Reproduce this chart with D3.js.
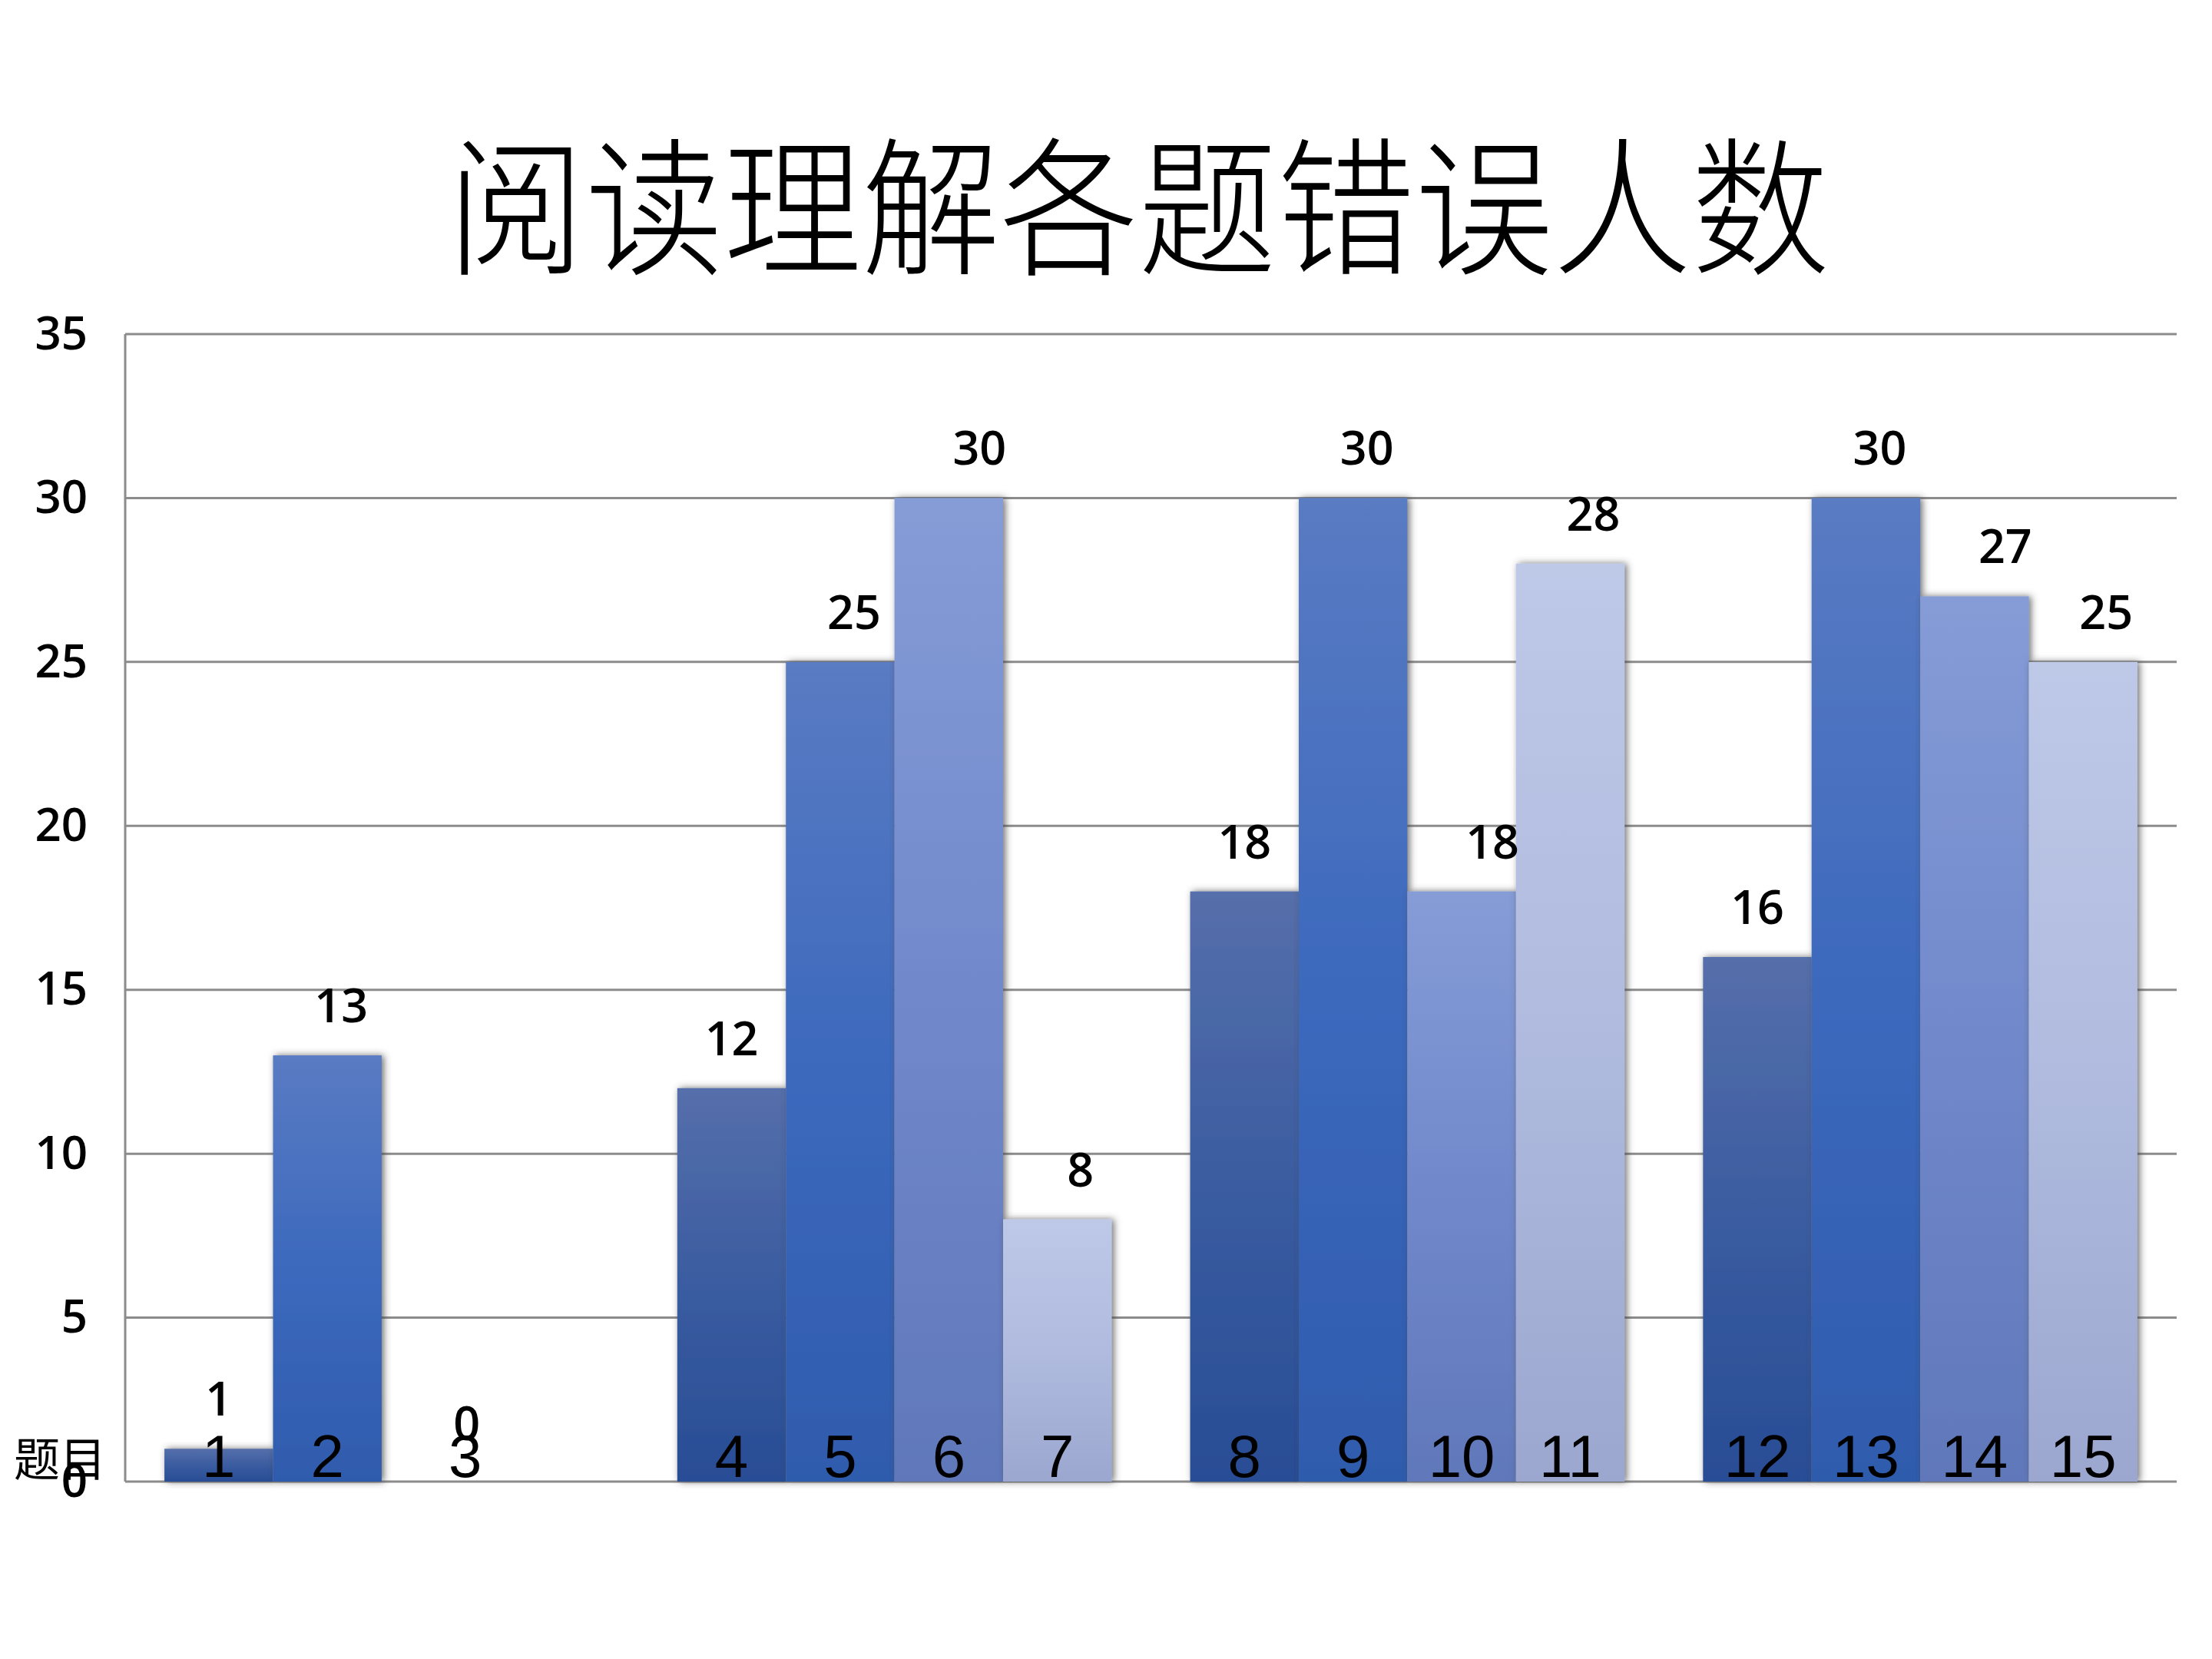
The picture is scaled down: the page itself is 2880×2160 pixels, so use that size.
<!DOCTYPE html>
<html>
<head>
<meta charset="UTF-8">
<style>
  body { margin: 0; background: #fff; }
  .grid line { stroke: #8c8c8c; stroke-width: 3px; }
  .axis--y path, .axis--y line { display: none; }
  .axis--y text { font-family: "Open Sans", "Noto Sans", sans-serif; font-size: 60px; font-weight: 600; fill: #000; }
  .value { font-family: "Open Sans", "Noto Sans", sans-serif; font-size: 61px; font-weight: 600; fill: #000; text-anchor: middle; }
  .qno { font-family: "Liberation Sans", Arial, sans-serif; font-size: 78px; fill: #000; text-anchor: middle; }
</style>
</head>
<body>
<svg width="2880" height="2160"></svg>
<script src="https://d3js.org/d3.v7.min.js"></script>
<script>
// groups of questions, four bars per group
var groups = ["g1", "g2", "g3", "g4"];
var slots = [0, 1, 2, 3];
// number of students who got each question wrong (null = no bar)
var errors = [
  [1, 13, 0, null],
  [12, 25, 30, 8],
  [18, 30, 18, 28],
  [16, 30, 27, 25]
];
// question numbers written inside the bars
var questionNos = [
  ["1", "2", "3", null],
  ["4", "5", "6", "7"],
  ["8", "9", "10", "11"],
  ["12", "13", "14", "15"]
];
var yTicks = [0, 5, 10, 15, 20, 25, 30, 35];
var title = "阅读理解各题错误人数";
var xTitle = "题目";

var svg = d3.select("svg"),
    margin = {top: 435, right: 46, bottom: 231, left: 163},
    width = +svg.attr("width") - margin.left - margin.right,
    height = +svg.attr("height") - margin.top - margin.bottom,
    g = svg.append("g").attr("transform", "translate(" + margin.left + "," + margin.top + ")");

svg.insert("rect", ":first-child").attr("width", 2880).attr("height", 2160).attr("fill", "#fff");

// gradients, one per slot colour
var colors = [
  ["#566fab", "#3a5ca0", "#284d95"],
  ["#5a7bc3", "#3c69bd", "#2f5bad"],
  ["#859cd7", "#7189cb", "#6078ba"],
  ["#bec8e7", "#b0bbdf", "#9ba7cf"]
];
var defs = svg.append("defs");
colors.forEach(function(c, i) {
  var lg = defs.append("linearGradient").attr("id", "grad" + i)
      .attr("x1", 0).attr("y1", 0).attr("x2", 0).attr("y2", 1);
  lg.append("stop").attr("offset", "0%").attr("stop-color", c[0]);
  lg.append("stop").attr("offset", "50%").attr("stop-color", c[1]);
  lg.append("stop").attr("offset", "100%").attr("stop-color", c[2]);
});
var f = defs.append("filter").attr("id", "shadow")
    .attr("x", "-20%").attr("y", "-20%").attr("width", "140%").attr("height", "140%");
f.append("feDropShadow").attr("dx", 3).attr("dy", 0).attr("stdDeviation", 5)
    .attr("flood-color", "#404040").attr("flood-opacity", 0.75);

var x0 = d3.scaleBand().domain(groups).range([0, width])
    .paddingInner(0.153).paddingOuter(0.0765);
var x1 = d3.scaleBand().domain(slots).range([0, x0.bandwidth()]);
var y = d3.scaleLinear().domain([0, 35]).range([height, 0]);

// gridlines
g.append("g").attr("class", "grid")
  .selectAll("line").data(yTicks).enter().append("line")
    .attr("x1", 0).attr("x2", width)
    .attr("y1", function(d) { return y(d); })
    .attr("y2", function(d) { return y(d); });
g.append("line")
    .attr("x1", 0).attr("x2", 0).attr("y1", 0).attr("y2", height)
    .style("stroke", "#8c8c8c").style("stroke-width", "3px");

g.append("g")
    .attr("class", "axis axis--y")
    .attr("transform", "translate(-49,0)")
    .call(d3.axisLeft(y).tickValues(yTicks).tickSize(0).tickPadding(0));

// flatten into bars
var bars = [];
groups.forEach(function(grp, gi) {
  slots.forEach(function(s) {
    if (errors[gi][s] !== null) bars.push({group: grp, slot: s, value: errors[gi][s], q: questionNos[gi][s]});
  });
});

g.selectAll(".bar")
  .data(bars.filter(function(d) { return d.value > 0; }))
  .enter().append("rect")
    .attr("class", "bar")
    .attr("x", function(d) { return x0(d.group) + x1(d.slot); })
    .attr("y", function(d) { return y(d.value); })
    .attr("width", x1.bandwidth())
    .attr("height", function(d) { return height - y(d.value); })
    .attr("fill", function(d) { return "url(#grad" + d.slot + ")"; })
    .attr("filter", "url(#shadow)");

// value labels sit a little right of centre for the lighter bars, like the original
var labelShift = [0, 18, 40, 30];
g.selectAll(".value")
  .data(bars)
  .enter().append("text")
    .attr("class", "value")
    .attr("x", function(d) { return x0(d.group) + x1(d.slot) + x1.bandwidth() / 2 + labelShift[d.slot]; })
    .attr("y", function(d) { return y(d.value) - (d.value === 0 ? 54 : 43); })
    .text(function(d) { return d.value; });

g.selectAll(".qno")
  .data(bars)
  .enter().append("text")
    .attr("class", "qno")
    .attr("x", function(d) { return x0(d.group) + x1(d.slot) + x1.bandwidth() / 2 + (d.value === 0 ? 38 : 0); })
    .attr("y", height - 6)
    .text(function(d) { return d.q; });

svg.append("text")
    .attr("x", 18).attr("y", 1922)
    .style("font-family", "'Noto Sans CJK SC', sans-serif")
    .style("font-size", "60px")
    .style("fill", "#000")
    .text(xTitle);

svg.append("text")
    .attr("transform", "translate(1482,258) scale(1,1.08)")
    .attr("text-anchor", "middle")
    .attr("dominant-baseline", "central")
    .style("font-family", "'Noto Sans CJK SC', sans-serif")
    .style("font-size", "180px")
    .style("font-weight", 300)
    .style("fill", "#000")
    .text(title);
</script>
</body>
</html>
